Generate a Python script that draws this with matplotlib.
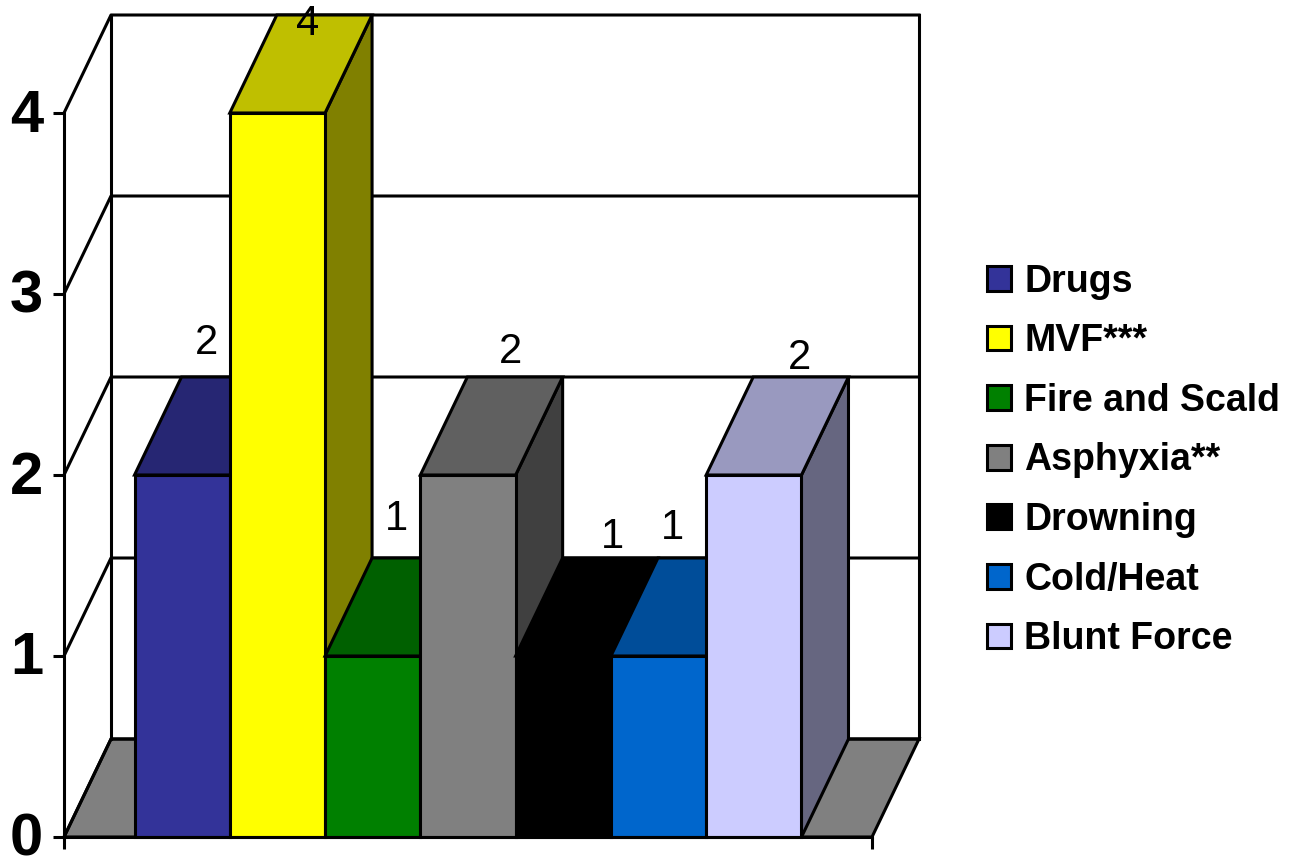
import matplotlib
matplotlib.use("Agg")
import matplotlib.pyplot as plt
from matplotlib.patches import Patch, Polygon

categories = ["Drugs", "MVF***", "Fire and Scald", "Asphyxia**", "Drowning", "Cold/Heat", "Blunt Force"]
values = [2, 4, 1, 2, 1, 1, 2]
colors = ["#333399", "#FFFF00", "#008000", "#808080", "#000000", "#0066CC", "#CCCCFF"]
y_ticks = [0, 1, 2, 3, 4]

# label nudges in pixels, PowerPoint placed these rather unevenly
label_dx = [24, 30, 24, 43, 49, 14, 46]
label_dy = [132, 89, 137, 123, 119, 128, 117]

W, H = 1294, 859
LEFT, RIGHT, BASE, TOP = 64, 872, 837, 113
PLOT_W = RIGHT - LEFT
DEPTH_X = 47
DEPTH_Y = 98 / ((BASE - TOP) / y_ticks[-1])  # depth in value units
GAP = 1.48
LW = 2.2


def shade(color, factor):
    rgb = matplotlib.colors.to_rgb(color)
    return tuple(c * factor for c in rgb)


def main():
    plt.rcParams["font.family"] = ["Liberation Sans", "DejaVu Sans"]
    fig = plt.figure(figsize=(W / 100, H / 100), dpi=100)
    ax = fig.add_axes([LEFT / W, 1 - BASE / H, PLOT_W / W, (BASE - TOP) / H])
    ax.set_xlim(0, PLOT_W)
    ax.set_ylim(y_ticks[0], y_ticks[-1])
    ax.patch.set_visible(False)

    # floor
    ax.add_patch(Polygon([(0, 0), (DEPTH_X, DEPTH_Y), (PLOT_W + DEPTH_X, DEPTH_Y), (PLOT_W, 0)],
                         closed=True, facecolor="#808080", edgecolor="black", linewidth=LW,
                         clip_on=False, zorder=1))

    # back wall and side wall gridlines
    for v in y_ticks:
        ax.plot([0, DEPTH_X, PLOT_W + DEPTH_X], [v, v + DEPTH_Y, v + DEPTH_Y],
                color="black", linewidth=LW, clip_on=False, zorder=1.5)
    ax.plot([DEPTH_X, DEPTH_X], [DEPTH_Y, y_ticks[-1] + DEPTH_Y],
            color="black", linewidth=LW, clip_on=False, zorder=1.5)
    ax.plot([PLOT_W + DEPTH_X, PLOT_W + DEPTH_X], [DEPTH_Y, y_ticks[-1] + DEPTH_Y],
            color="black", linewidth=LW, clip_on=False, zorder=1.5)

    bar_w = PLOT_W / (len(values) + GAP)
    start = bar_w * GAP / 2
    for i, (v, col) in enumerate(zip(values, colors)):
        x = start + i * bar_w
        z = 3 + i
        ax.add_patch(Polygon([(x + bar_w, 0), (x + bar_w + DEPTH_X, DEPTH_Y),
                              (x + bar_w + DEPTH_X, v + DEPTH_Y), (x + bar_w, v)],
                             closed=True, facecolor=shade(col, 0.5), edgecolor="black",
                             linewidth=LW, clip_on=False, zorder=z))
        ax.add_patch(Polygon([(x, v), (x + DEPTH_X, v + DEPTH_Y),
                              (x + bar_w + DEPTH_X, v + DEPTH_Y), (x + bar_w, v)],
                             closed=True, facecolor=shade(col, 0.75), edgecolor="black",
                             linewidth=LW, clip_on=False, zorder=z))
        ax.bar(x, v, width=bar_w, align="edge", color=col, edgecolor="black",
               linewidth=LW, clip_on=False, zorder=z)
        ax.annotate(str(v), xy=(x + bar_w / 2, v), xytext=(label_dx[i], label_dy[i]),
                    textcoords="offset pixels", ha="center", va="center",
                    fontsize=30, color="black", annotation_clip=False, zorder=20)

    for side in ["top", "right"]:
        ax.spines[side].set_visible(False)
    for side in ["left", "bottom"]:
        ax.spines[side].set_linewidth(LW)
        ax.spines[side].set_zorder(15)

    ax.set_yticks(y_ticks)
    ax.set_yticklabels([str(v) for v in y_ticks], fontsize=43, fontweight="bold")
    ax.set_xticks([0, PLOT_W])
    ax.set_xticklabels([])
    ax.tick_params(axis="y", length=8, width=LW, pad=7)
    ax.tick_params(axis="x", length=8.5, width=LW)
    # lift the tick labels a touch so the 0 stays inside the picture
    lift = matplotlib.transforms.ScaledTranslation(0, 3 / 100, fig.dpi_scale_trans)
    for lab in ax.get_yticklabels():
        lab.set_transform(lab.get_transform() + lift)

    handles = [Patch(facecolor=c, edgecolor="black", linewidth=LW) for c in colors]
    ax.legend(handles, categories, loc="upper left",
              bbox_to_anchor=(987 / W, 1 - 263.5 / H), bbox_transform=fig.transFigure,
              frameon=False, borderpad=0, borderaxespad=0,
              prop={"family": "Liberation Sans", "weight": "bold", "size": 27},
              handlelength=0.64, handleheight=0.64, handletextpad=0.36, labelspacing=0.63)

    fig.savefig("out.png", dpi=100)


if __name__ == '__main__':
    main()
